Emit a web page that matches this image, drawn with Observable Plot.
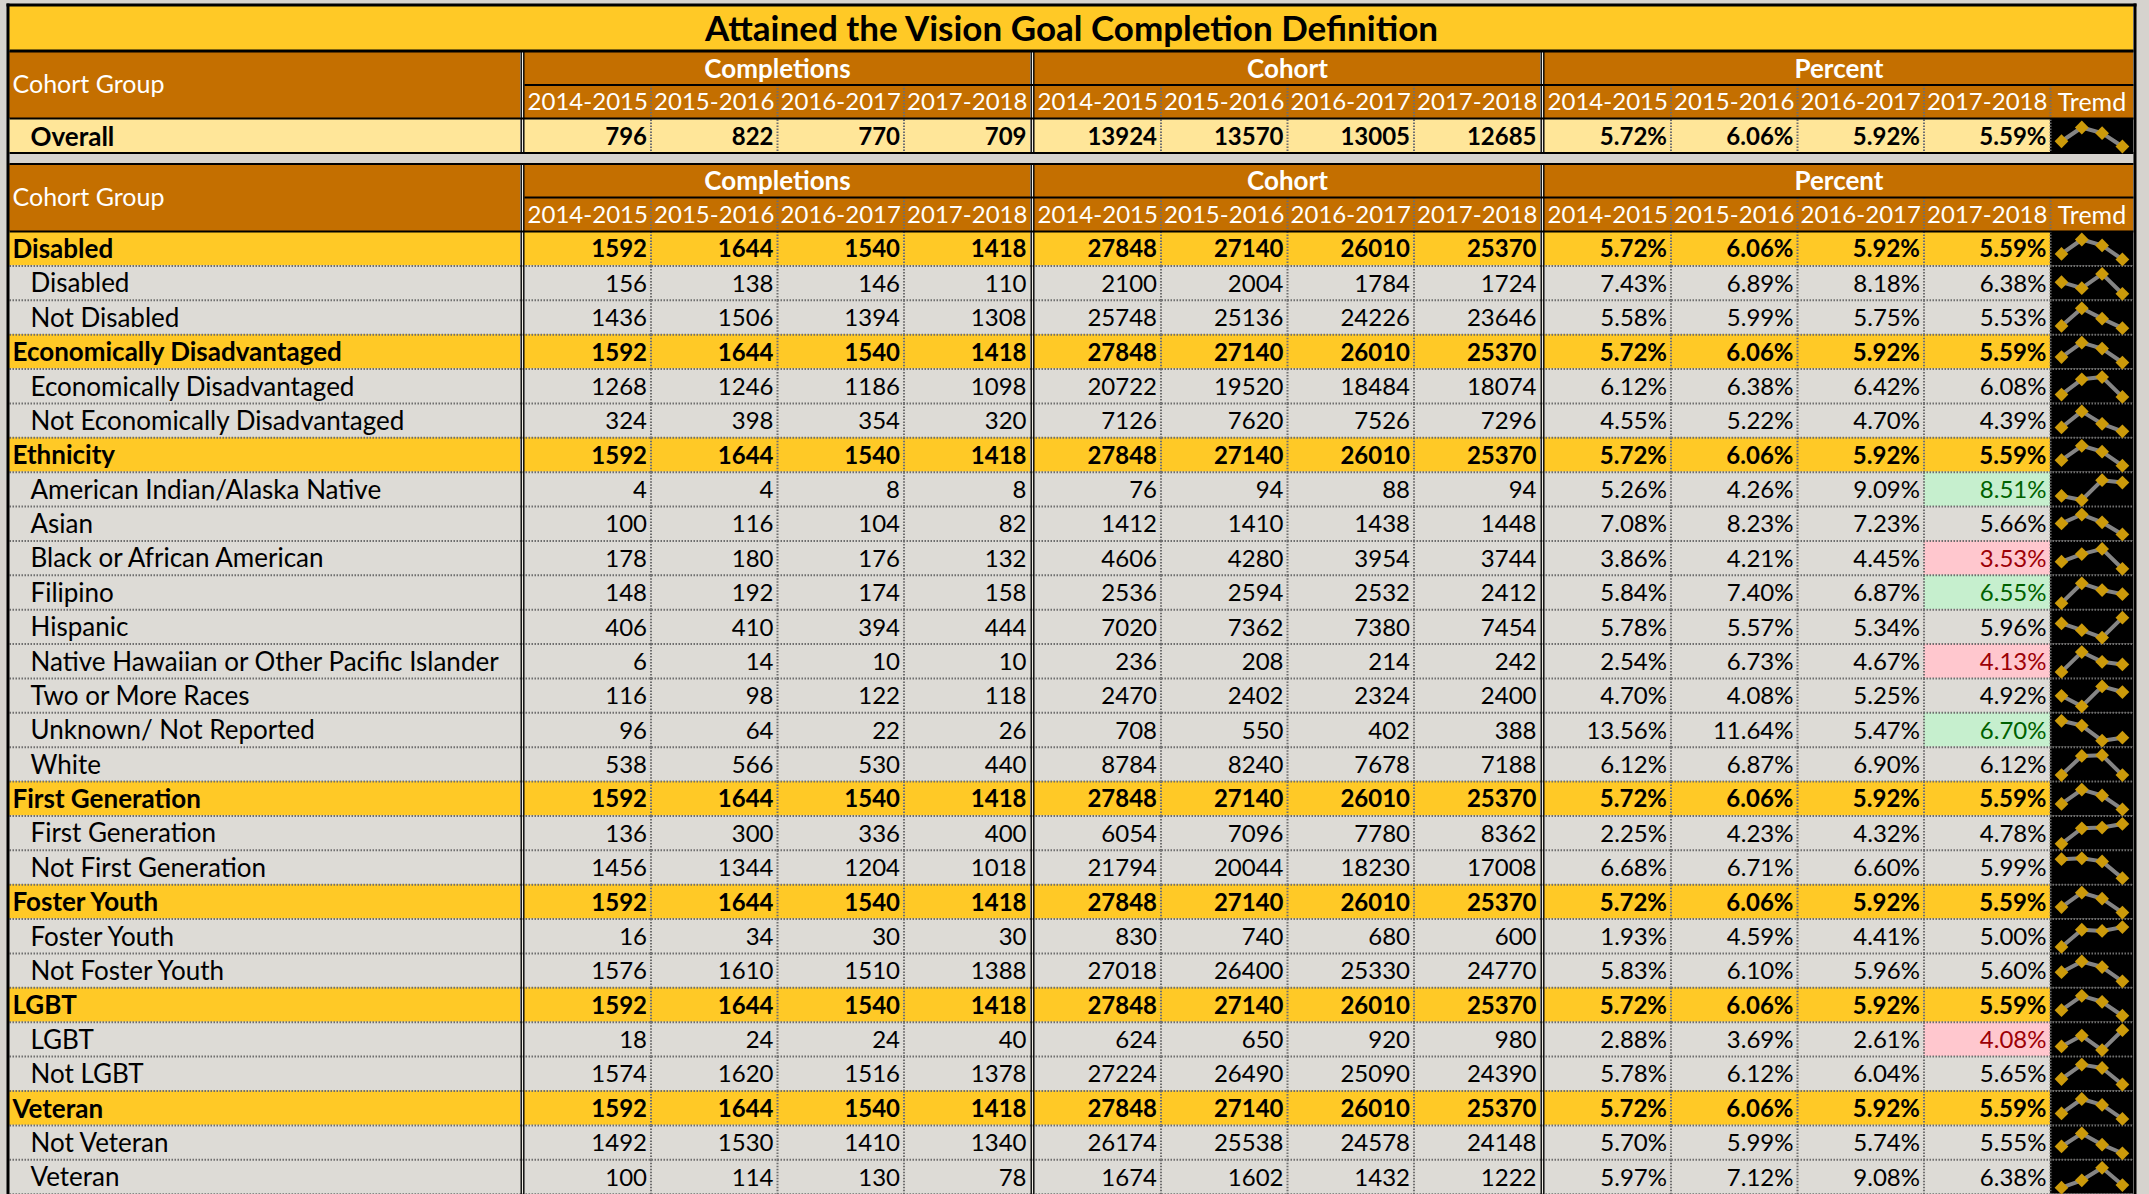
<!DOCTYPE html>
<html><head><meta charset="utf-8">
<script src="https://cdn.jsdelivr.net/npm/d3@7"></script>
<script src="https://cdn.jsdelivr.net/npm/@observablehq/plot@0.6"></script>
<style>html,body{margin:0;padding:0;background:#d6d3ce;} svg{display:block}</style>
</head><body><div id="chart"></div>
<script>
// ---------------- DATA ----------------
const title = "Attained the Vision Goal Completion Definition";
const headerLabel = "Cohort Group";
const measures = ["Completions", "Cohort", "Percent"];
const years = ["2014-2015", "2015-2016", "2016-2017", "2017-2018"];
const trendLabel = "Tremd";

const overallLabel = "Overall";
const overallCompletions = [796, 822, 770, 709];
const overallCohort = [13924, 13570, 13005, 12685];
const overallPercent = [5.72, 6.06, 5.92, 5.59];

const rowLabels = [
  "Disabled", "Disabled", "Not Disabled",
  "Economically Disadvantaged", "Economically Disadvantaged", "Not Economically Disadvantaged",
  "Ethnicity", "American Indian/Alaska Native", "Asian", "Black or African American", "Filipino", "Hispanic",
  "Native Hawaiian or Other Pacific Islander", "Two or More Races", "Unknown/ Not Reported", "White",
  "First Generation", "First Generation", "Not First Generation",
  "Foster Youth", "Foster Youth", "Not Foster Youth",
  "LGBT", "LGBT", "Not LGBT",
  "Veteran", "Not Veteran", "Veteran"
];
const rowIsGroup = [
  true, false, false,
  true, false, false,
  true, false, false, false, false, false, false, false, false, false,
  true, false, false,
  true, false, false,
  true, false, false,
  true, false, false
];
const completions = [
  [1592,1644,1540,1418],[156,138,146,110],[1436,1506,1394,1308],
  [1592,1644,1540,1418],[1268,1246,1186,1098],[324,398,354,320],
  [1592,1644,1540,1418],[4,4,8,8],[100,116,104,82],[178,180,176,132],[148,192,174,158],[406,410,394,444],
  [6,14,10,10],[116,98,122,118],[96,64,22,26],[538,566,530,440],
  [1592,1644,1540,1418],[136,300,336,400],[1456,1344,1204,1018],
  [1592,1644,1540,1418],[16,34,30,30],[1576,1610,1510,1388],
  [1592,1644,1540,1418],[18,24,24,40],[1574,1620,1516,1378],
  [1592,1644,1540,1418],[1492,1530,1410,1340],[100,114,130,78]
];
const cohort = [
  [27848,27140,26010,25370],[2100,2004,1784,1724],[25748,25136,24226,23646],
  [27848,27140,26010,25370],[20722,19520,18484,18074],[7126,7620,7526,7296],
  [27848,27140,26010,25370],[76,94,88,94],[1412,1410,1438,1448],[4606,4280,3954,3744],[2536,2594,2532,2412],[7020,7362,7380,7454],
  [236,208,214,242],[2470,2402,2324,2400],[708,550,402,388],[8784,8240,7678,7188],
  [27848,27140,26010,25370],[6054,7096,7780,8362],[21794,20044,18230,17008],
  [27848,27140,26010,25370],[830,740,680,600],[27018,26400,25330,24770],
  [27848,27140,26010,25370],[624,650,920,980],[27224,26490,25090,24390],
  [27848,27140,26010,25370],[26174,25538,24578,24148],[1674,1602,1432,1222]
];
const percent = [
  [5.72,6.06,5.92,5.59],[7.43,6.89,8.18,6.38],[5.58,5.99,5.75,5.53],
  [5.72,6.06,5.92,5.59],[6.12,6.38,6.42,6.08],[4.55,5.22,4.70,4.39],
  [5.72,6.06,5.92,5.59],[5.26,4.26,9.09,8.51],[7.08,8.23,7.23,5.66],[3.86,4.21,4.45,3.53],[5.84,7.40,6.87,6.55],[5.78,5.57,5.34,5.96],
  [2.54,6.73,4.67,4.13],[4.70,4.08,5.25,4.92],[13.56,11.64,5.47,6.70],[6.12,6.87,6.90,6.12],
  [5.72,6.06,5.92,5.59],[2.25,4.23,4.32,4.78],[6.68,6.71,6.60,5.99],
  [5.72,6.06,5.92,5.59],[1.93,4.59,4.41,5.00],[5.83,6.10,5.96,5.60],
  [5.72,6.06,5.92,5.59],[2.88,3.69,2.61,4.08],[5.78,6.12,6.04,5.65],
  [5.72,6.06,5.92,5.59],[5.70,5.99,5.74,5.55],[5.97,7.12,9.08,6.38]
];
// conditional format of the last percent column: "good", "bad" or ""
const flag2018 = [
  "","","",
  "","","",
  "","good","","bad","good","","bad","","good","",
  "","","",
  "","","",
  "","bad","",
  "","",""
];

// ---------------- STYLE / LAYOUT ----------------
const W = 2149, H = 1194;
const C = {
  page: "#d6d3ce", gold: "#FFC926", brown: "#C46F00", light: "#FFE699", body: "#DDDBD6",
  black: "#000", dot: "#6e6e6e", spark: "#858585", diamond: "#CC9A0A",
  goodBg: "#C6EFCE", goodFg: "#006100", badBg: "#FFC7CE", badFg: "#9C0006"
};
const FONT = "Lato, 'Noto Sans', sans-serif";
const L = {left: 9, right: 2133, top: 6, titleB: 50, hdrT: 51, hdrMid: 84.5, hdrB: 118,
  ovT: 119, ovB: 152.5, hdr2T: 163.5, hdr2Mid: 197, hdr2B: 231, rowH: 34.38,
  labelR: 520, gap: 4, colW: 126.5, trendW: 83};
const FS = {title: 35, head: 25, group: 26, year: 24, label: 26, num: 24};

// columns
const cols = [];
let cx = L.labelR + L.gap;
const groupSpans = [];
measures.forEach((m, mi) => {
  const gx = cx;
  years.forEach((y, yi) => { cols.push({mi, yi, x1: cx, x2: cx + L.colW}); cx += L.colW; });
  groupSpans.push({m, x1: gx, x2: cx});
  if (mi < measures.length - 1) cx += L.gap;
});
const trendX1 = cx, trendX2 = L.right;
groupSpans[2].x2 = trendX2; // "Percent" header spans the trend column

// table rows
const rows = [{label: overallLabel, kind: "overall", vals: [...overallCompletions, ...overallCohort], pct: overallPercent, flag: "", y1: L.ovT, y2: L.ovB}];
rowLabels.forEach((lab, i) => {
  const y1 = L.hdr2B + i * L.rowH;
  rows.push({label: lab, kind: rowIsGroup[i] ? "group" : "sub", vals: [...completions[i], ...cohort[i]], pct: percent[i], flag: flag2018[i],
    y1, y2: y1 + L.rowH});
});

// ---------------- MARK DATA ----------------
const rects = [];
const texts = [];
const solid = [];   // {x1,y1,x2,y2,w}
const dotted = [];
const sparkPts = [];

// title & headers
rects.push({x1: L.left, x2: L.right, y1: L.top, y2: L.titleB, fill: C.gold});
texts.push({x: (L.left + L.right) / 2, y: (L.top + L.titleB) / 2 + 1, text: title, fill: "#000", weight: "bold", anchor: "middle", size: FS.title});
[[L.hdrT, L.hdrMid, L.hdrB], [L.hdr2T, L.hdr2Mid, L.hdr2B]].forEach(([t, m, b]) => {
  rects.push({x1: L.left, x2: L.right, y1: t, y2: b, fill: C.brown});
  texts.push({x: L.left + 3, y: (t + b) / 2, text: headerLabel, fill: "#fff", weight: "normal", anchor: "start", size: FS.head});
  groupSpans.forEach(g => texts.push({x: (g.x1 + g.x2) / 2, y: (t + m) / 2 + 1, text: g.m, fill: "#fff", weight: "bold", anchor: "middle", size: FS.group}));
  cols.forEach(c => texts.push({x: (c.x1 + c.x2) / 2, y: (m + b) / 2 + 1, text: years[c.yi], fill: "#fff", weight: "normal", anchor: "middle", size: FS.year}));
  texts.push({x: (trendX1 + trendX2) / 2, y: (m + b) / 2 + 1, text: trendLabel, fill: "#fff", weight: "normal", anchor: "middle", size: FS.head});
  solid.push({x1: L.labelR + L.gap, x2: L.right, y1: m, y2: m, w: 2});
  solid.push({x1: L.left, x2: L.right, y1: t, y2: t, w: 2});
  solid.push({x1: L.left, x2: L.right, y1: b, y2: b, w: 2});
  cols.forEach(c => { if (c.yi > 0) dotted.push({x1: c.x1, x2: c.x1, y1: m, y2: b}); });
  dotted.push({x1: trendX1, x2: trendX1, y1: m, y2: b});
});
solid.push({x1: L.left, x2: L.right, y1: L.titleB, y2: L.titleB, w: 2});

// body rows
rows.forEach(r => {
  const bg = r.kind === "overall" ? C.light : r.kind === "group" ? C.gold : C.body;
  const bold = r.kind !== "sub" ? "bold" : "normal";
  rects.push({x1: L.left, x2: L.labelR, y1: r.y1, y2: r.y2, fill: bg});
  const ym = (r.y1 + r.y2) / 2 + 1;
  texts.push({x: r.kind === "group" ? L.left + 3 : L.left + 21, y: ym, text: r.label, fill: "#000", weight: bold, anchor: "start", size: FS.label});
  cols.forEach((c, ci) => {
    let fill = bg, fg = "#000";
    if (c.mi === 2 && c.yi === 3 && r.flag) { fill = r.flag === "good" ? C.goodBg : C.badBg; fg = r.flag === "good" ? C.goodFg : C.badFg; }
    rects.push({x1: c.x1, x2: c.x2, y1: r.y1, y2: r.y2, fill});
    const v = c.mi < 2 ? String(r.vals[ci]) : r.pct[c.yi].toFixed(2) + "%";
    texts.push({x: c.x2 - 4, y: ym, text: v, fill: fg, weight: bold, anchor: "end", size: FS.num});
    if (c.yi > 0) dotted.push({x1: c.x1, x2: c.x1, y1: r.y1, y2: r.y2});
  });
  dotted.push({x1: trendX1, x2: trendX1, y1: r.y1, y2: r.y2});
  rects.push({x1: trendX1, x2: trendX2, y1: r.y1, y2: r.y2, fill: C.black});
  if (r.kind !== "overall") dotted.push({x1: L.left, x2: L.right, y1: r.y2, y2: r.y2});
  // sparkline, auto-scaled per row like an Excel sparkline
  const [lo, hi] = d3.extent(r.pct);
  r.pct.forEach((p, i) => {
    const t = hi > lo ? (p - lo) / (hi - lo) : 0.5;
    sparkPts.push({row: r.y1, x: trendX1 + 11 + i * 20.3, y: r.y2 - 6.5 - t * (r.y2 - r.y1 - 14.5)});
  });
});
solid.push({x1: L.left, x2: L.right, y1: L.ovB, y2: L.ovB, w: 2});

// double rules between column groups
const doubles = [L.labelR, groupSpans[0].x2, groupSpans[1].x2];
doubles.forEach(x => {
  rects.push({x1: x, x2: x + L.gap, y1: L.hdrT, y2: L.ovB, fill: "#f2efe6"});
  rects.push({x1: x, x2: x + L.gap, y1: L.hdr2T, y2: H, fill: "#f2efe6"});
  [[L.hdrT, L.ovB], [L.hdr2T, H]].forEach(([a, b]) => {
    solid.push({x1: x + 0.7, x2: x + 0.7, y1: a, y2: b, w: 1.4});
    solid.push({x1: x + L.gap - 0.7, x2: x + L.gap - 0.7, y1: a, y2: b, w: 1.4});
  });
});
// outer frame
solid.push({x1: L.left - 1.5, x2: L.left - 1.5, y1: L.top - 3, y2: H, w: 3});
solid.push({x1: L.right + 1.5, x2: L.right + 1.5, y1: L.top - 3, y2: H, w: 3});
solid.push({x1: L.left - 3, x2: L.right + 3, y1: L.top - 1.5, y2: L.top - 1.5, w: 3});

// ---------------- PLOT ----------------
const textGroups = d3.groups(texts, d => `${d.weight}|${d.anchor}|${d.size}`);
const solidGroups = d3.groups(solid, d => d.w);

const chart = Plot.plot({
  width: W, height: H, margin: 0,
  x: {domain: [0, W], range: [0, W], axis: null},
  y: {domain: [0, H], range: [0, H], axis: null},
  color: {type: "identity"},
  style: {background: C.page, fontFamily: FONT},
  marks: [
    Plot.rect(rects, {x1: "x1", x2: "x2", y1: "y1", y2: "y2", fill: "fill"}),
    Plot.link(dotted, {x1: "x1", y1: "y1", x2: "x2", y2: "y2", stroke: C.dot, strokeWidth: 2, strokeDasharray: "1.5 1.5"}),
    ...solidGroups.map(([w, g]) => Plot.link(g, {x1: "x1", y1: "y1", x2: "x2", y2: "y2", stroke: C.black, strokeWidth: w})),
    Plot.line(sparkPts, {x: "x", y: "y", z: "row", stroke: C.spark, strokeWidth: 4}),
    Plot.dot(sparkPts, {x: "x", y: "y", symbol: "diamond2", r: 6.2, fill: C.diamond, stroke: "none"}),
    ...textGroups.map(([k, g]) => {
      const [weight, anchor, size] = k.split("|");
      return Plot.text(g, {x: "x", y: "y", text: "text", fill: "fill", fontWeight: weight, textAnchor: anchor, fontSize: +size, lineAnchor: "middle"});
    })
  ]
});
document.getElementById("chart").append(chart);
</script>
</body></html>
